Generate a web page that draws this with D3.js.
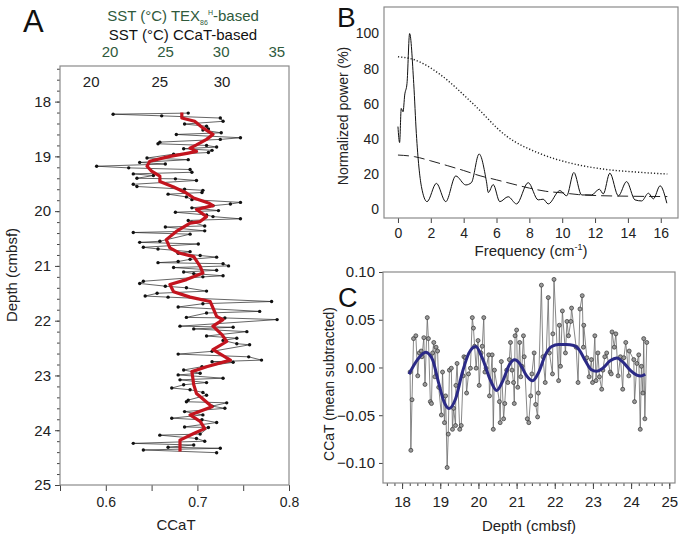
<!DOCTYPE html>
<html>
<head>
<meta charset="utf-8">
<script src="https://cdn.jsdelivr.net/npm/d3@7"></script>
<style>
  body { margin: 0; background: #fff; }
  svg text { font-family: "Liberation Sans", Arial, sans-serif; }
</style>
</head>
<body>
<div class="fig"></div>
<script>
// ---- panel A / C data: depth (cmbsf), CCaT ----
var depth = [18.21,18.23,18.26,18.30,18.36,18.41,18.45,18.50,18.52,18.57,18.60,18.66,18.69,18.74,18.77,18.80,18.83,18.86,18.89,18.93,
  18.96,19.03,19.06,19.11,19.14,19.18,19.21,19.24,19.29,19.32,19.35,19.40,19.41,19.44,19.51,19.55,19.60,19.62,19.66,19.69,
  19.74,19.79,19.84,19.87,19.90,19.94,19.99,20.02,20.07,20.10,20.14,20.17,20.20,20.27,20.29,20.36,20.39,20.42,20.55,20.57,
  20.60,20.66,20.69,20.74,20.77,20.81,20.84,20.88,20.92,20.94,20.96,21.00,21.03,21.08,21.11,21.14,21.18,21.20,21.28,21.32,
  21.37,21.40,21.46,21.50,21.55,21.57,21.65,21.69,21.75,21.83,21.86,21.94,21.95,21.98,22.10,22.12,22.15,22.20,22.28,22.32,
  22.36,22.42,22.44,22.56,22.61,22.66,22.72,22.75,22.76,22.84,22.90,22.96,22.99,23.05,23.08,23.13,23.17,23.23,23.26,23.31,
  23.36,23.45,23.48,23.50,23.56,23.60,23.66,23.72,23.78,23.81,23.86,23.94,23.95,24.07,24.09,24.15,24.20,24.24,24.27,24.31,
  24.33,24.36,24.41];
var ccat = [0.690,0.608,0.661,0.725,0.728,0.686,0.710,0.712,0.706,0.726,0.677,0.747,0.725,0.659,0.657,0.710,0.721,0.685,0.716,0.712,
  0.674,0.645,0.690,0.637,0.665,0.590,0.625,0.692,0.694,0.630,0.652,0.634,0.676,0.699,0.630,0.634,0.686,0.706,0.705,0.668,
  0.688,0.694,0.747,0.736,0.717,0.694,0.723,0.676,0.710,0.717,0.747,0.690,0.694,0.708,0.665,0.708,0.630,0.692,0.659,0.637,
  0.701,0.641,0.657,0.692,0.679,0.703,0.721,0.692,0.679,0.657,0.728,0.734,0.674,0.721,0.685,0.696,0.728,0.706,0.641,0.637,
  0.665,0.688,0.710,0.656,0.643,0.668,0.781,0.706,0.679,0.768,0.710,0.688,0.730,0.787,0.681,0.739,0.696,0.754,0.710,0.743,
  0.728,0.743,0.757,0.716,0.679,0.756,0.770,0.716,0.739,0.705,0.685,0.703,0.679,0.728,0.681,0.710,0.685,0.672,0.692,0.706,
  0.710,0.690,0.688,0.732,0.716,0.730,0.686,0.706,0.672,0.705,0.721,0.686,0.712,0.703,0.659,0.699,0.708,0.630,0.696,0.668,
  0.725,0.641,0.721];

// red smoothed line (panel A)
var smoothDepth = [18.20,18.30,18.36,18.48,18.60,18.69,18.79,18.85,18.91,18.94,19.00,19.09,19.18,19.27,19.36,19.46,19.56,19.67,19.76,19.85,
  19.90,19.97,20.10,20.19,20.22,20.37,20.52,20.67,20.77,20.83,21.01,21.13,21.25,21.34,21.47,21.57,21.65,21.92,21.98,22.10,
  22.26,22.38,22.53,22.72,22.84,22.93,23.17,23.33,23.57,23.72,23.84,23.97,24.06,24.18,24.39];
var smoothCcat = [0.683,0.683,0.697,0.706,0.717,0.710,0.699,0.692,0.699,0.690,0.670,0.648,0.645,0.650,0.659,0.659,0.674,0.688,0.696,0.712,
  0.717,0.699,0.710,0.703,0.692,0.677,0.666,0.670,0.681,0.696,0.703,0.706,0.688,0.670,0.674,0.692,0.714,0.721,0.728,0.717,
  0.727,0.732,0.717,0.736,0.710,0.694,0.696,0.699,0.716,0.692,0.703,0.708,0.696,0.681,0.681];

// top axes of panel A
var sstTexTicks = [20, 25, 30, 35];
var sstCcatTicks = [20, 25, 30];
var sstCcatAtCcat = [0.584, 0.659, 0.727];

// ---- panel B: spectrum ----
var freq = [0,0.1,0.2,0.31,0.41,0.55,0.71,0.96,1.12,1.43,1.77,2.34,2.91,3.52,4.13,4.47,4.94,5.39,5.5,5.8,
  6.2,6.71,7.22,7.93,8.54,8.84,9.15,9.86,10.27,10.71,11.18,11.79,12.26,12.5,12.9,13.42,13.92,14.43,14.84,15.25,
  15.55,15.96,16.37];
var power = [47,37.9,57.3,55.4,64.9,71.5,99.9,71.5,43,12.8,4.3,14.7,4.3,18.9,13.8,15.1,31.4,15.6,9.5,14.0,
  4.3,7.1,3.0,15.1,5.3,5.7,3.0,10.6,7.6,20.9,8.1,8.1,11.4,8.7,20.5,7.6,15.7,5.3,4.7,9.1,
  5.9,13.3,3.4];
var confFreq = [0,1,1.5,2.54,4.57,6.6,8.6,10.6,12.6,14.7,16.4];
var conf99 = [86.7,85,83,76.8,60,41.6,31.8,26,22.7,21,20];
var redFreq = [0,1,2,3,4,5,6,7,8,9,10,11,12,14,16.4];
var redNoise = [30.8,29.9,27.5,24.8,22,19,16.7,14.3,12,10.2,9.3,8.3,7.8,7.4,7.2];

// ---- panel C: filtered component ----
var fitDepth = [18.18,18.40,18.62,18.80,18.95,19.10,19.23,19.40,19.58,19.75,19.93,20.10,20.30,20.48,20.65,20.80,20.95,21.10,21.25,21.42,
  21.58,21.75,21.92,22.10,22.30,22.50,22.65,22.80,22.95,23.10,23.25,23.45,23.63,23.80,23.98,24.15,24.25,24.37];
var fitVal = [-0.007,0.008,0.016,0.008,-0.015,-0.036,-0.043,-0.033,-0.005,0.015,0.022,0.010,-0.012,-0.024,-0.013,0.002,0.008,0.003,-0.008,-0.014,
  -0.005,0.013,0.022,0.024,0.024,0.023,0.018,0.007,-0.002,-0.004,-0.001,0.007,0.010,0.005,-0.003,-0.008,-0.009,-0.007];

var svg = d3.select(".fig").append("svg")
  .attr("width", 680)
  .attr("height", 537);

var frameColor = "#8a8a8a";
var tickColor = "#444";

function frame(x0, y0, x1, y1) {
  svg.append("rect")
    .attr("x", x0).attr("y", y0)
    .attr("width", x1 - x0).attr("height", y1 - y0)
    .attr("fill", "none")
    .attr("stroke", frameColor)
    .attr("stroke-width", 1.2);
}
function styleAxis(g, size) {
  g.select(".domain").remove();
  g.selectAll("line").attr("stroke", tickColor);
  g.selectAll("text").attr("font-size", size || 14).attr("fill", "#222")
    .style("font-family", "'Liberation Sans', Arial, sans-serif");
}

// =================== panel A ===================
var xA = d3.scaleLinear().domain([0.55, 0.8]).range([60, 289]);
var yA = d3.scaleLinear().domain([17.35, 25]).range([66, 485]);
var xTex = d3.scaleLinear().domain([15.5, 36.1]).range([60, 289]);

var axA = svg.append("g").attr("transform", "translate(0,485)")
  .call(d3.axisBottom(xA).tickValues([0.55,0.6,0.65,0.7,0.75,0.8]).tickSize(6).tickPadding(6)
    .tickFormat(function(d){ return Math.round(d*100) % 10 === 0 ? d3.format(".1f")(d) : ""; }));
styleAxis(axA);

var ayA = svg.append("g").attr("transform", "translate(60,0)")
  .call(d3.axisLeft(yA).tickValues(d3.range(18, 25.01, 1)).tickSize(5).tickPadding(4).tickFormat(d3.format("d")));
styleAxis(ayA, 15);
svg.append("g").attr("transform", "translate(60,0)")
  .call(d3.axisLeft(yA).tickValues(d3.range(17.4, 25, 0.2)).tickSize(3).tickFormat(""))
  .call(function(g){ g.select(".domain").remove(); g.selectAll("line").attr("stroke", tickColor); });

frame(60, 66, 289, 485);

// top labels (CCaT based, inside) and TEX86 based (outside)
svg.append("g").selectAll("text").data(sstCcatTicks).join("text")
  .attr("x", function(d, i){ return xA(sstCcatAtCcat[i]); })
  .attr("y", 87)
  .attr("text-anchor", "middle")
  .attr("font-size", 15).attr("fill", "#222")
  .text(function(d){ return d; });
svg.append("g").selectAll("text").data(sstTexTicks).join("text")
  .attr("x", function(d){ return xTex(d); })
  .attr("y", 57)
  .attr("text-anchor", "middle")
  .attr("font-size", 15).attr("fill", "#2f5a3c")
  .text(function(d){ return d; });

var tt = svg.append("text").attr("x", 183).attr("y", 21).attr("text-anchor", "middle")
  .attr("font-size", 15).attr("fill", "#2f5a3c");
tt.append("tspan").text("SST (°C) TEX");
tt.append("tspan").attr("font-size", 7).attr("dy", 4).text("86");
tt.append("tspan").attr("font-size", 7).attr("dy", -10).text("H");
tt.append("tspan").attr("dy", 6).text("-based");
svg.append("text").attr("x", 183).attr("y", 40).attr("text-anchor", "middle")
  .attr("font-size", 15).attr("fill", "#111").text("SST (°C) CCaT-based");

var ptsA = depth.map(function(d, i){ return [ccat[i], d]; });
svg.append("path").datum(ptsA)
  .attr("fill", "none").attr("stroke", "#222").attr("stroke-width", 0.7)
  .attr("d", d3.line().x(function(p){ return xA(p[0]); }).y(function(p){ return yA(p[1]); }));
svg.append("g").selectAll("circle").data(ptsA).join("circle")
  .attr("cx", function(p){ return xA(p[0]); })
  .attr("cy", function(p){ return yA(p[1]); })
  .attr("r", 1.7).attr("fill", "#111");

svg.append("path").datum(smoothDepth.map(function(d, i){ return [smoothCcat[i], d]; }))
  .attr("fill", "none").attr("stroke", "#c3141e").attr("stroke-width", 3.2)
  .attr("stroke-linejoin", "round")
  .attr("d", d3.line().x(function(p){ return xA(p[0]); }).y(function(p){ return yA(p[1]); }));

svg.append("text").attr("x", 176).attr("y", 530).attr("text-anchor", "middle")
  .attr("font-size", 15).attr("fill", "#222").text("CCaT");
svg.append("text").attr("transform", "translate(17,275) rotate(-90)").attr("text-anchor", "middle")
  .attr("font-size", 15).attr("fill", "#222").text("Depth (cmbsf)");
svg.append("text").attr("x", 23).attr("y", 32).attr("font-size", 31).attr("fill", "#111").text("A");

// =================== panel B ===================
var xB = d3.scaleLinear().domain([-0.85, 17.05]).range([384, 678]);
var yB = d3.scaleLinear().domain([-5, 115]).range([218, 7]);

var axB = svg.append("g").attr("transform", "translate(0,218)")
  .call(d3.axisBottom(xB).tickValues(d3.range(0, 17, 2)).tickSize(5).tickPadding(5));
styleAxis(axB);
var ayB = svg.append("g").attr("transform", "translate(384,0)")
  .call(d3.axisLeft(yB).tickValues(d3.range(0, 101, 20)).tickSize(0).tickPadding(5));
styleAxis(ayB);
frame(384, 7, 678, 218);

svg.append("path").datum(confFreq.map(function(f, i){ return [f, conf99[i]]; }))
  .attr("fill", "none").attr("stroke", "#222").attr("stroke-width", 1.4).attr("stroke-dasharray", "1.2,2")
  .attr("d", d3.line().curve(d3.curveMonotoneX).x(function(p){ return xB(p[0]); }).y(function(p){ return yB(p[1]); }));
svg.append("path").datum(redFreq.map(function(f, i){ return [f, redNoise[i]]; }))
  .attr("fill", "none").attr("stroke", "#222").attr("stroke-width", 1).attr("stroke-dasharray", "11,5")
  .attr("d", d3.line().curve(d3.curveMonotoneX).x(function(p){ return xB(p[0]); }).y(function(p){ return yB(p[1]); }));
svg.append("path").datum(freq.map(function(f, i){ return [f, power[i]]; }))
  .attr("fill", "none").attr("stroke", "#111").attr("stroke-width", 1)
  .attr("d", d3.line().curve(d3.curveMonotoneX).x(function(p){ return xB(p[0]); }).y(function(p){ return yB(p[1]); }));

svg.append("text").attr("x", 531).attr("y", 256).attr("text-anchor", "middle")
  .attr("font-size", 15).attr("fill", "#222")
  .call(function(t){
    t.append("tspan").text("Frequency (cm");
    t.append("tspan").attr("font-size", 9).attr("dy", -6).text("-1");
    t.append("tspan").attr("dy", 6).text(")");
  });
svg.append("text").attr("transform", "translate(348,116) rotate(-90)").attr("text-anchor", "middle")
  .attr("font-size", 14).attr("fill", "#222").text("Normalized power (%)");
svg.append("text").attr("x", 337).attr("y", 27).attr("font-size", 28).attr("fill", "#111").text("B");

// =================== panel C ===================
var xC = d3.scaleLinear().domain([17.5, 25.15]).range([383, 675]);
var yC = d3.scaleLinear().domain([-0.121, 0.10]).range([483, 272]);

var axC = svg.append("g").attr("transform", "translate(0,483)")
  .call(d3.axisBottom(xC).tickValues(d3.range(18, 25.01, 1)).tickSize(6).tickPadding(7).tickFormat(d3.format("d")));
styleAxis(axC, 15);
svg.append("g").attr("transform", "translate(0,483)")
  .call(d3.axisBottom(xC).tickValues(d3.range(17.6, 25.15, 0.2)).tickSize(3).tickFormat(""))
  .call(function(g){ g.select(".domain").remove(); g.selectAll("line").attr("stroke", tickColor); });
var ayC = svg.append("g").attr("transform", "translate(383,0)")
  .call(d3.axisLeft(yC).tickValues([-0.10, -0.05, 0, 0.05, 0.10]).tickSize(4).tickPadding(4).tickFormat(d3.format(".2f")));
styleAxis(ayC, 15);
frame(383, 272, 675, 483);

var meanCcat = d3.mean(ccat);
var ptsC = depth.map(function(d, i){ return [d, ccat[i] - meanCcat]; });
svg.append("path").datum(ptsC)
  .attr("fill", "none").attr("stroke", "#6a6a6a").attr("stroke-width", 0.8)
  .attr("d", d3.line().x(function(p){ return xC(p[0]); }).y(function(p){ return yC(p[1]); }));
svg.append("g").selectAll("circle").data(ptsC).join("circle")
  .attr("cx", function(p){ return xC(p[0]); })
  .attr("cy", function(p){ return yC(p[1]); })
  .attr("r", 2).attr("fill", "#9a9a9a").attr("stroke", "#333").attr("stroke-width", 0.7);

svg.append("path").datum(fitDepth.map(function(d, i){ return [d, fitVal[i]]; }))
  .attr("fill", "none").attr("stroke", "#2b2a86").attr("stroke-width", 3)
  .attr("d", d3.line().curve(d3.curveMonotoneX).x(function(p){ return xC(p[0]); }).y(function(p){ return yC(p[1]); }));

svg.append("text").attr("x", 529).attr("y", 531).attr("text-anchor", "middle")
  .attr("font-size", 15).attr("fill", "#222").text("Depth (cmbsf)");
svg.append("text").attr("transform", "translate(334,384) rotate(-90)").attr("text-anchor", "middle")
  .attr("font-size", 14).attr("fill", "#222").text("CCaT (mean subtracted)");
svg.append("text").attr("x", 338).attr("y", 307).attr("font-size", 27).attr("fill", "#111").text("C");
</script>
</body>
</html>
